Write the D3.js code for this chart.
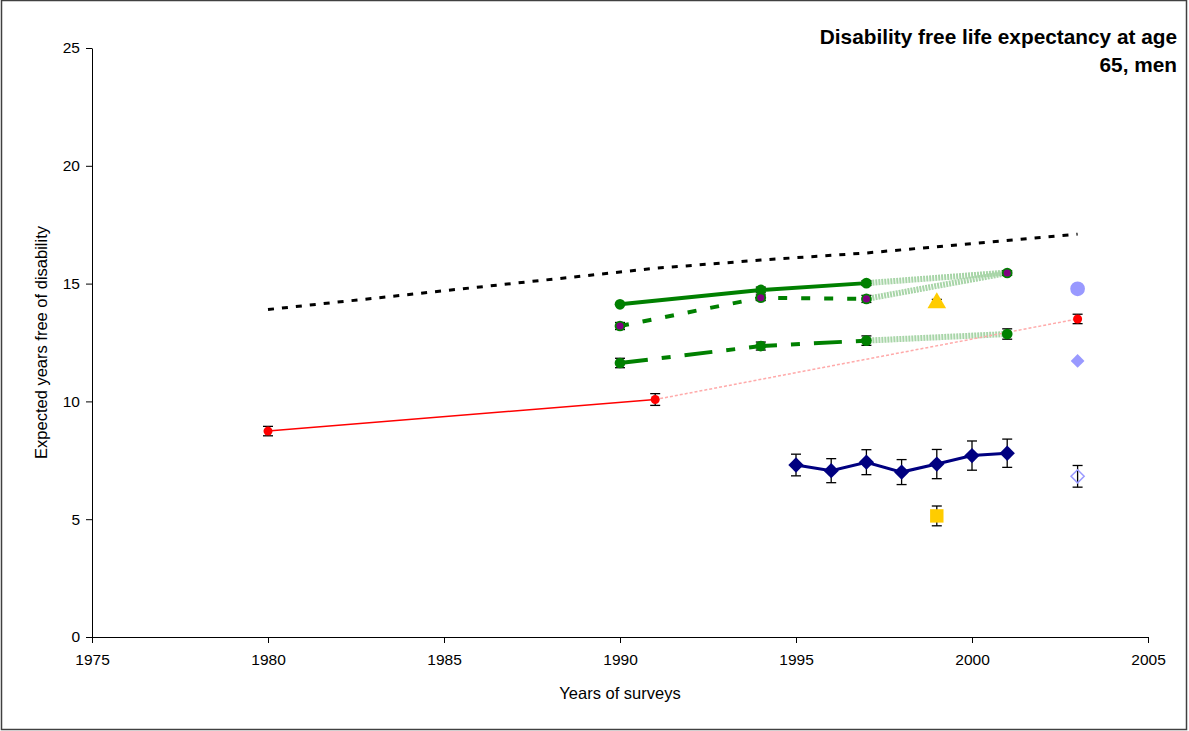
<!DOCTYPE html>
<html>
<head>
<meta charset="utf-8">
<script src="https://cdn.jsdelivr.net/npm/d3@7"></script>
<style>
    body { margin: 0; background: #fff; }
    svg { display: block; font-family: "Liberation Sans", Arial, sans-serif; }
</style>
</head>
<body>
<script>
// values (years, expected years free of disability, half error bar)
var xTicks = [1975, 1980, 1985, 1990, 1995, 2000, 2005];
var yTicks = [0, 5, 10, 15, 20, 25];

var lifeExp = [
    {year: 1980, value: 13.9}, {year: 1991, value: 15.65}, {year: 1994, value: 16.0},
    {year: 1997, value: 16.3}, {year: 2000, value: 16.7}, {year: 2003, value: 17.1}
];
var greenSolid = [
    {year: 1990, value: 14.12, err: 0}, {year: 1994, value: 14.73, err: 0.12}, {year: 1997, value: 15.02, err: 0.1}
];
var greenSolidLink = [{year: 1997, value: 15.02}, {year: 2001, value: 15.47}];
var greenDash = [
    {year: 1990, value: 13.2, err: 0.15}, {year: 1994, value: 14.4, err: 0.12}, {year: 1997, value: 14.35, err: 0.15}
];
var greenDashLink = [{year: 1997, value: 14.35}, {year: 2001, value: 15.45}];
var greenDashEnd = [{year: 2001, value: 15.45, err: 0.1}];
var greenDashDot = [
    {year: 1990, value: 11.63, err: 0.2}, {year: 1994, value: 12.35, err: 0.17}, {year: 1997, value: 12.58, err: 0.2}
];
var greenDashDotLink = [{year: 1997, value: 12.58}, {year: 2001, value: 12.86}];
var greenDashDotEnd = [{year: 2001, value: 12.86, err: 0.22}];
var redSeries = [{year: 1980, value: 8.74, err: 0.2}, {year: 1991, value: 10.08, err: 0.25}];
var redLink = [{year: 1991, value: 10.08}, {year: 2003, value: 13.5}];
var redEnd = [{year: 2003, value: 13.5, err: 0.2}];
var navySeries = [
    {year: 1995, value: 7.3, err: 0.46}, {year: 1996, value: 7.06, err: 0.51},
    {year: 1997, value: 7.42, err: 0.53}, {year: 1998, value: 7.0, err: 0.53},
    {year: 1999, value: 7.34, err: 0.62}, {year: 2000, value: 7.7, err: 0.62},
    {year: 2001, value: 7.8, err: 0.6}
];
var hollowDiamond = [{year: 2003, value: 6.82, err: 0.46}];
var yellowSquare = [{year: 1999, value: 5.14, err: 0.42}];
var yellowTriangle = [{year: 1999, value: 14.18, err: 0.15}];
var blueCircle = [{year: 2003, value: 14.78}];
var blueDiamond = [{year: 2003, value: 11.72}];

var width = 1189, height = 731;
var svg = d3.select("body").append("svg").attr("width", width).attr("height", height);

svg.append("rect")
    .attr("x", 1.5).attr("y", 0.5)
    .attr("width", width - 4).attr("height", height - 2)
    .attr("fill", "#fff").attr("stroke", "#404040").attr("stroke-width", 1.5);

var x = d3.scaleLinear().domain([1975, 2005]).range([92, 1148]);
var y = d3.scaleLinear().domain([0, 25]).range([637, 48]);

// axes
var xAxis = svg.append("g")
    .attr("transform", "translate(0," + y(0) + ")")
    .call(d3.axisBottom(x).tickValues(xTicks).tickFormat(d3.format("d")).tickSize(6).tickSizeOuter(0));
xAxis.selectAll("text").attr("dy", "1.25em").style("font-size", "15.5px").attr("fill", "#000");

var yAxis = svg.append("g")
    .attr("transform", "translate(" + x(1975) + ",0)")
    .call(d3.axisLeft(y).tickValues(yTicks).tickSize(6).tickSizeOuter(0));
yAxis.selectAll("text").attr("x", -12).style("font-size", "15.5px").attr("fill", "#000");
svg.selectAll(".domain, .tick line").attr("stroke", "#000");
svg.selectAll(".tick text").style("font-family", "Liberation Sans, Arial, sans-serif");

svg.append("text")
    .attr("x", (x(1975) + x(2005)) / 2).attr("y", 699)
    .attr("text-anchor", "middle").style("font-size", "16.5px")
    .text("Years of surveys");

svg.append("text")
    .attr("transform", "translate(47," + ((y(0) + y(25)) / 2) + ") rotate(-90)")
    .attr("text-anchor", "middle").style("font-size", "16.5px")
    .text("Expected years free of disability");

svg.append("text")
    .attr("x", 1177).attr("y", 44)
    .attr("text-anchor", "end").style("font-size", "20.8px").style("font-weight", "bold")
    .text("Disability free life expectancy at age");
svg.append("text")
    .attr("x", 1177).attr("y", 72)
    .attr("text-anchor", "end").style("font-size", "20.8px").style("font-weight", "bold")
    .text("65, men");

var line = d3.line()
    .x(function (d) { return x(d.year); })
    .y(function (d) { return y(d.value); });

function drawLine(data, color, w, dash) {
    svg.append("path")
        .datum(data)
        .attr("d", line)
        .attr("fill", "none")
        .attr("stroke", color)
        .attr("stroke-width", w)
        .attr("stroke-dasharray", dash || null);
}

function drawErrors(data) {
    var g = svg.append("g");
    data.filter(function (d) { return d.err > 0; }).forEach(function (d) {
        var cx = x(d.year), y0 = y(d.value - d.err), y1 = y(d.value + d.err);
        g.append("line").attr("x1", cx).attr("x2", cx).attr("y1", y0).attr("y2", y1);
        g.append("line").attr("x1", cx - 5).attr("x2", cx + 5).attr("y1", y0).attr("y2", y0);
        g.append("line").attr("x1", cx - 5).attr("x2", cx + 5).attr("y1", y1).attr("y2", y1);
    });
    g.selectAll("line").attr("stroke", "#000").attr("stroke-width", 1.3);
}

function drawSymbols(data, type, size, fill, stroke) {
    svg.append("g").selectAll("path")
        .data(data)
        .enter().append("path")
        .attr("transform", function (d) { return "translate(" + x(d.year) + "," + y(d.value) + ")"; })
        .attr("d", d3.symbol().type(type).size(size))
        .attr("fill", fill)
        .attr("stroke", stroke || "none")
        .attr("stroke-width", stroke ? 1.5 : 0);
}

// faint linking lines
drawLine(greenSolidLink, "#a8d5a8", 6, "2,1");
drawLine(greenDashLink, "#a8d5a8", 6, "2,1");
drawLine(greenDashDotLink, "#a8d5a8", 6, "2,1");
drawLine(redLink, "#ffaaaa", 1.5, "3,2");

// total life expectancy
drawLine(lifeExp, "#000", 3, "6,8");

drawLine(redSeries, "#ff0000", 1.5);
drawLine(greenSolid, "#008000", 4);
drawLine(greenDash, "#008000", 4, "9,14");
drawLine(greenDashDot, "#008000", 4, "28,14,9,14");
drawLine(navySeries, "#000080", 3);

// error bars
[greenSolid, greenDash, greenDashEnd, greenDashDot, greenDashDotEnd, redSeries, redEnd,
    navySeries, hollowDiamond, yellowSquare, yellowTriangle].forEach(drawErrors);

// markers
drawSymbols(greenSolid, d3.symbolCircle, 90, "#008000");
drawSymbols(greenDash.concat(greenDashEnd), d3.symbolCircle, 90, "#008000");
drawSymbols(greenDash.concat(greenDashEnd), d3.symbolCircle, 40, "#800080");
drawSymbols(greenDashDot.concat(greenDashDotEnd), d3.symbolCircle, 90, "#008000");
drawSymbols(redSeries.concat(redEnd), d3.symbolCircle, 64, "#ff0000");
drawSymbols(navySeries, d3.symbolDiamond2, 150, "#000080");
drawSymbols(hollowDiamond, d3.symbolDiamond2, 110, "none", "#9999ff");
drawSymbols(yellowSquare, d3.symbolSquare, 180, "#ffcc00");
drawSymbols(yellowTriangle, d3.symbolTriangle, 150, "#ffcc00");
drawSymbols(blueCircle, d3.symbolCircle, 170, "#9999ff");
drawSymbols(blueDiamond, d3.symbolDiamond2, 120, "#9999ff");
</script>
</body>
</html>
